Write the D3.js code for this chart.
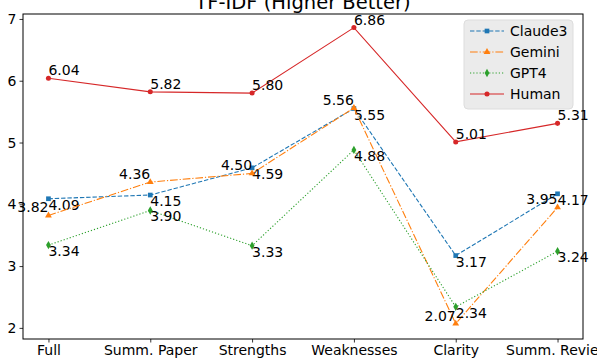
<!DOCTYPE html>
<html>
<head>
<meta charset="utf-8">
<script src="https://cdn.jsdelivr.net/npm/d3@7"></script>
<style>
  body { margin: 0; background: #fff; }
  svg { display: block; font-family: "DejaVu Sans", sans-serif; }
</style>
</head>
<body>
<svg id="chart" width="597" height="358"></svg>
<script>
// data
const categories = ['Full', 'Summ. Paper', 'Strengths', 'Weaknesses', 'Clarity', 'Summ. Review'];
const claude3 = [4.09, 4.15, 4.59, 5.55, 3.17, 4.17];
const gemini  = [3.82, 4.36, 4.50, 5.56, 2.07, 3.95];
const gpt4    = [3.34, 3.90, 3.33, 4.88, 2.34, 3.24];
const human   = [6.04, 5.82, 5.80, 6.86, 5.01, 5.31];
const yTicks  = [2, 3, 4, 5, 6, 7];

const series = [
    { name: 'Claude3', values: claude3, color: '#1f77b4', dash: '4.4,1.9', marker: d3.symbolSquare, size: 22, pos: 'rb' },
    { name: 'Gemini', values: gemini, color: '#ff7f0e', dash: '7.7,1.9,1.2,1.9', marker: d3.symbolTriangle, size: 20, pos: 'la' },
    { name: 'GPT4', values: gpt4, color: '#2ca02c', dash: '1.2,2', marker: d3.symbolDiamond, size: 20, pos: 'rb' },
    { name: 'Human', values: human, color: '#d62728', dash: null, marker: d3.symbolCircle, size: 20, pos: 'ra' }
];

const margin = { top: 14, right: 14, bottom: 19, left: 23 },
    width = 597 - margin.left - margin.right,
    height = 358 - margin.top - margin.bottom;

const svg = d3.select('#chart');
const g = svg.append('g').attr('transform', `translate(${margin.left},${margin.top})`);

const xScale = d3.scalePoint()
    .domain(categories)
    .range([0, width])
    .padding(0.25);

const yScale = d3.scaleLinear()
    .domain([1.82, 7.08])
    .range([height, 0]);

// axes
const xAxis = g.append('g')
    .attr('transform', `translate(0,${height})`)
    .call(d3.axisBottom(xScale).tickSize(3.5).tickPadding(3));

const yAxis = g.append('g')
    .call(d3.axisLeft(yScale).tickValues(yTicks).tickFormat(d3.format('d')).tickSize(3.5).tickPadding(3));

[xAxis, yAxis].forEach(ax => {
    ax.select('.domain').remove();
    ax.selectAll('text').attr('font-size', 14).attr('fill', '#000')
        .attr('font-family', '"DejaVu Sans", sans-serif');
    ax.selectAll('line').attr('stroke', '#000').attr('stroke-width', 0.8);
});

// frame
g.append('rect')
    .attr('width', width).attr('height', height)
    .attr('fill', 'none').attr('stroke', '#000').attr('stroke-width', 1);

const line = d3.line()
    .x((d, i) => xScale(categories[i]))
    .y(d => yScale(d));

series.forEach(s => {
    const sg = g.append('g');
    sg.append('path')
        .attr('d', line(s.values))
        .attr('fill', 'none')
        .attr('stroke', s.color)
        .attr('stroke-width', 1.1)
        .attr('stroke-dasharray', s.dash);

    sg.selectAll('path.mark')
        .data(s.values)
        .enter()
        .append('path')
        .attr('class', 'mark')
        .attr('transform', (d, i) => `translate(${xScale(categories[i])},${yScale(d)})`)
        .attr('d', d3.symbol().type(s.marker).size(s.size))
        .attr('fill', s.color);

    sg.selectAll('text')
        .data(s.values)
        .enter()
        .append('text')
        .attr('x', (d, i) => xScale(categories[i]))
        .attr('y', d => s.pos === 'rb' ? yScale(d) + 11 : yScale(d) - 3)
        .attr('text-anchor', s.pos === 'la' ? 'end' : 'start')
        .attr('font-size', 14)
        .text(d => d.toFixed(2));
});

// title (cut off at the top, as in the reference)
svg.append('text')
    .attr('x', margin.left + width / 2)
    .attr('y', 8.5)
    .attr('text-anchor', 'middle')
    .attr('font-size', 19.5)
    .text('TF-IDF (Higher Better)');

// legend
const legend = svg.append('g').attr('transform', 'translate(464,20)');
legend.append('rect')
    .attr('width', 109).attr('height', 89)
    .attr('rx', 4)
    .attr('fill', '#ebebeb')
    .attr('stroke', '#dddddd');

series.forEach((s, i) => {
    const row = legend.append('g').attr('transform', `translate(0,${11 + i * 21})`);
    row.append('line')
        .attr('x1', 6).attr('x2', 40)
        .attr('stroke', s.color).attr('stroke-width', 1.1)
        .attr('stroke-dasharray', s.dash);
    row.append('path')
        .attr('transform', 'translate(23,0)')
        .attr('d', d3.symbol().type(s.marker).size(s.size))
        .attr('fill', s.color);
    row.append('text')
        .attr('x', 46).attr('y', 5)
        .attr('font-size', 14)
        .text(s.name);
});
</script>
</body>
</html>
